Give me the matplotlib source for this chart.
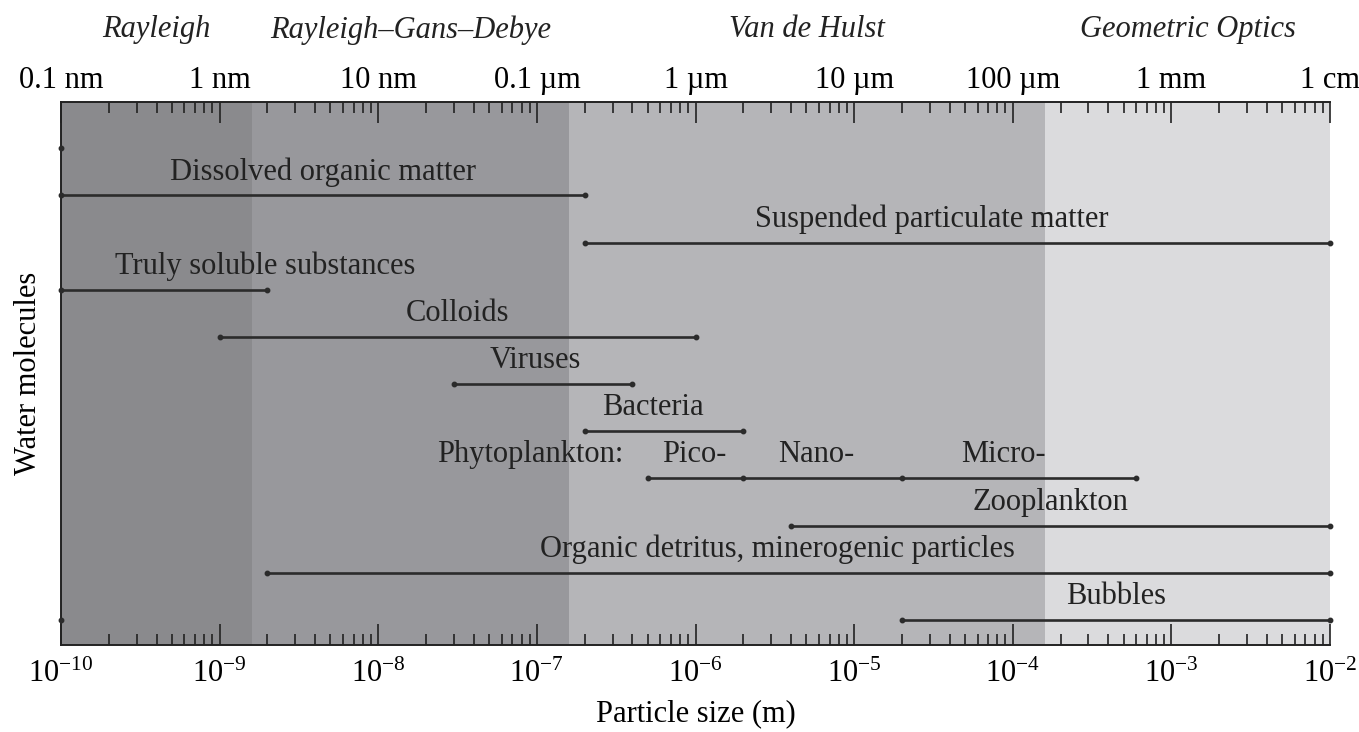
import numpy as np
import matplotlib.pyplot as plt
from matplotlib.ticker import LogLocator, NullFormatter, FixedLocator

plt.rcParams["font.family"] = ["Liberation Serif", "DejaVu Serif"]
plt.rcParams["mathtext.default"] = "regular"
plt.rcParams["figure.dpi"] = 100

#%% data
# scattering regimes (band edges in m)
regime_edges = [1e-10, 1.6e-9, 1.6e-7, 1.6e-4, 1e-2]
regime_names = ["Rayleigh", "Rayleigh\u2013Gans\u2013Debye", "Van de Hulst", "Geometric Optics"]
regime_colors = ["#8a8a8d", "#98989c", "#b5b5b8", "#dbdbdd"]

# size ranges for each row (m); phytoplankton row has pico/nano/micro breaks
row_edges = [
    [1e-10, 2e-7],               # dissolved organic matter
    [2e-7, 1e-2],                # suspended particulate matter
    [1e-10, 2e-9],               # truly soluble substances
    [1e-9, 1e-6],                # colloids
    [3e-8, 4e-7],                # viruses
    [2e-7, 2e-6],                # bacteria
    [5e-7, 2e-6, 2e-5, 6e-4],    # phytoplankton
    [4e-6, 1e-2],                # zooplankton
    [2e-9, 1e-2],                # organic detritus
    [2e-5, 1e-2],                # bubbles
]
water_range = [-1, 9]  # rows spanned by the water molecule marker at 0.1 nm

labels = ["Dissolved organic matter", "Suspended particulate matter", "Truly soluble substances",
          "Colloids", "Viruses", "Bacteria", "Phytoplankton:", "Pico-", "Nano-", "Micro-",
          "Zooplankton", "Organic detritus, minerogenic particles", "Bubbles"]
label_rows = [0, 1, 2, 3, 4, 5, 6, 6, 6, 6, 7, 8, 9]
label_x = [4.47e-9, 3.09e-5, 1.95e-9, 3.16e-8, 9.8e-8, 5.37e-7, 9.1e-8, 9.8e-7, 5.75e-6,
           8.7e-5, 1.74e-4, 3.3e-6, 4.47e-4]

decades = [1e-10, 1e-9, 1e-8, 1e-7, 1e-6, 1e-5, 1e-4, 1e-3, 1e-2]
bottom_labels = [r"$10^{-10}$", r"$10^{-9}$", r"$10^{-8}$", r"$10^{-7}$", r"$10^{-6}$",
                 r"$10^{-5}$", r"$10^{-4}$", r"$10^{-3}$", r"$10^{-2}$"]
top_labels = ["0.1 nm", "1 nm", "10 nm", "0.1 \u00b5m", "1 \u00b5m", "10 \u00b5m",
              "100 \u00b5m", "1 mm", "1 cm"]

#%% plot
fig = plt.figure(figsize=(13.59, 7.32))
ax = fig.add_axes([61 / 1359, 1 - 645 / 732, 1269 / 1359, 543 / 732])
ax.set_xscale("log")
ax.set_xlim(regime_edges[0], regime_edges[-1])
ax.set_ylim(9.53, -1.98)

fs = 22
line_kw = dict(color="#2b2b2b", lw=1.9, marker="o", ms=3.2, mec="#2b2b2b", mfc="#2b2b2b")

for lo, hi, c, name in zip(regime_edges[:-1], regime_edges[1:], regime_colors, regime_names):
    ax.axvspan(lo, hi, color=c, lw=0, zorder=0)
    ax.text(np.sqrt(lo * hi), 1.133, name, transform=ax.get_xaxis_transform(),
            ha="center", va="center", fontsize=fs, style="italic", color="#222222")

for i, edges in enumerate(row_edges):
    ax.plot(edges, [i] * len(edges), clip_on=False, zorder=3, **line_kw)

ax.plot([regime_edges[0]] * 2, water_range, clip_on=False, zorder=3,
        **{**line_kw, "lw": 0})

for txt, r, x in zip(labels, label_rows, label_x):
    ax.text(x, r - 0.5, txt, ha="center", va="center", fontsize=fs, color="#222222")

ax.set_yticks([])
ax.set_xticks(decades)
ax.set_xticklabels(bottom_labels)
ax.xaxis.set_minor_locator(LogLocator(base=10, subs=np.arange(2, 10)))
ax.xaxis.set_minor_formatter(NullFormatter())
ax.tick_params(axis="x", which="major", direction="in", length=15, width=1.2,
               labelsize=fs, pad=11, color="#222222")
ax.tick_params(axis="x", which="minor", direction="in", length=8, width=1.2, color="#222222")
for s in ["top", "right"]:
    ax.spines[s].set_visible(False)
for s in ["left", "bottom"]:
    ax.spines[s].set_linewidth(1.4)
    ax.spines[s].set_color("#222222")
ax.set_xlabel("Particle size (m)", fontsize=fs, labelpad=7)
ax.set_ylabel("Water molecules", fontsize=fs, labelpad=13)

ax2 = ax.twiny()
ax2.set_xscale("log")
ax2.set_xlim(ax.get_xlim())
ax2.xaxis.set_major_locator(FixedLocator(decades))
ax2.set_xticklabels(top_labels)
ax2.xaxis.set_minor_locator(LogLocator(base=10, subs=np.arange(2, 10)))
ax2.xaxis.set_minor_formatter(NullFormatter())
ax2.tick_params(axis="x", which="major", direction="in", length=15, width=1.2,
                labelsize=fs, pad=5, color="#222222")
ax2.tick_params(axis="x", which="minor", direction="in", length=8, width=1.2, color="#222222")
for s in ["left", "right", "bottom"]:
    ax2.spines[s].set_visible(False)
ax2.spines["top"].set_linewidth(1.4)
ax2.spines["top"].set_color("#222222")

fig.savefig("out.png", dpi=100)
